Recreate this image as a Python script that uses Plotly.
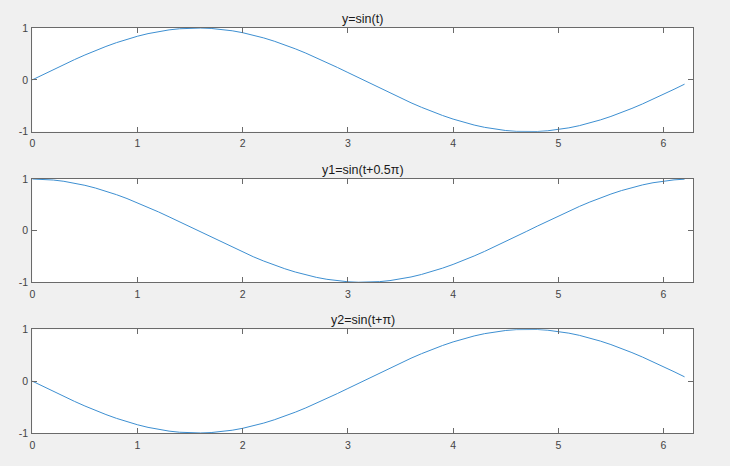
import plotly.graph_objects as go

t = [round(0.1 * i, 1) for i in range(63)]

y_sin = [0.0000, 0.0998, 0.1987, 0.2955, 0.3894, 0.4794, 0.5646, 0.6442, 0.7174, 0.7833,
         0.8415, 0.8912, 0.9320, 0.9636, 0.9854, 0.9975, 0.9996, 0.9917, 0.9738, 0.9463,
         0.9093, 0.8632, 0.8085, 0.7457, 0.6755, 0.5985, 0.5155, 0.4274, 0.3350, 0.2392,
         0.1411, 0.0416, -0.0584, -0.1577, -0.2555, -0.3508, -0.4425, -0.5298, -0.6119, -0.6878,
         -0.7568, -0.8183, -0.8716, -0.9162, -0.9516, -0.9775, -0.9937, -0.9999, -0.9962, -0.9825,
         -0.9589, -0.9258, -0.8835, -0.8323, -0.7728, -0.7055, -0.6313, -0.5507, -0.4646, -0.3739,
         -0.2794, -0.1822, -0.0831]

y1_cos = [1.0000, 0.9950, 0.9801, 0.9553, 0.9211, 0.8776, 0.8253, 0.7648, 0.6967, 0.6216,
          0.5403, 0.4536, 0.3624, 0.2675, 0.1700, 0.0707, -0.0292, -0.1288, -0.2272, -0.3233,
          -0.4161, -0.5048, -0.5885, -0.6663, -0.7374, -0.8011, -0.8569, -0.9041, -0.9422, -0.9710,
          -0.9900, -0.9991, -0.9983, -0.9875, -0.9668, -0.9365, -0.8968, -0.8481, -0.7910, -0.7259,
          -0.6536, -0.5748, -0.4903, -0.4008, -0.3073, -0.2108, -0.1122, -0.0124, 0.0875, 0.1865,
          0.2837, 0.3780, 0.4685, 0.5544, 0.6347, 0.7087, 0.7756, 0.8347, 0.8855, 0.9275,
          0.9602, 0.9833, 0.9965]

y2_neg = [0.0000, -0.0998, -0.1987, -0.2955, -0.3894, -0.4794, -0.5646, -0.6442, -0.7174, -0.7833,
          -0.8415, -0.8912, -0.9320, -0.9636, -0.9854, -0.9975, -0.9996, -0.9917, -0.9738, -0.9463,
          -0.9093, -0.8632, -0.8085, -0.7457, -0.6755, -0.5985, -0.5155, -0.4274, -0.3350, -0.2392,
          -0.1411, -0.0416, 0.0584, 0.1577, 0.2555, 0.3508, 0.4425, 0.5298, 0.6119, 0.6878,
          0.7568, 0.8183, 0.8716, 0.9162, 0.9516, 0.9775, 0.9937, 0.9999, 0.9962, 0.9825,
          0.9589, 0.9258, 0.8835, 0.8323, 0.7728, 0.7055, 0.6313, 0.5507, 0.4646, 0.3739,
          0.2794, 0.1822, 0.0831]

titles = ["y=sin(t)", "y1=sin(t+0.5\u03c0)", "y2=sin(t+\u03c0)"]
series = [y_sin, y1_cos, y2_neg]
x_ticks = [0, 1, 2, 3, 4, 5, 6]
x_tick_labels = ["0", "1", "2", "3", "4", "5", "6"]
y_ticks = [-1, 0, 1]
y_tick_labels = ["-1", "0", "1"]
x_range = [0, 6.2832]

W, H = 730, 466
x_dom = [32.3 / W, 693.3 / W]
y_px = [(28, 131.7), (179, 282.3), (329.3, 433)]

fig = go.Figure()
axis_col = "#6a6a6a"
font_fam = "Liberation Sans, Arial, Helvetica, sans-serif"

for i, (ys, ttl) in enumerate(zip(series, titles)):
    n = "" if i == 0 else str(i + 1)
    fig.add_trace(go.Scatter(x=t, y=ys, mode="lines",
                             line=dict(color="#3d8fd1", width=1),
                             xaxis="x" + n, yaxis="y" + n, showlegend=False,
                             hoverinfo="skip"))
    top, bot = y_px[i]
    ydom = [1 - bot / H, 1 - top / H]
    common = dict(showgrid=False, zeroline=False, showline=True, linecolor=axis_col,
                  linewidth=1, mirror="allticks", ticks="inside", ticklen=5,
                  tickwidth=1, tickcolor=axis_col, automargin=False,
                  tickfont=dict(family=font_fam, size=10.5, color="#444444"))
    fig.update_layout(**{
        "xaxis" + n: dict(domain=x_dom, range=x_range, tickvals=x_ticks,
                          ticktext=x_tick_labels, anchor="y" + n,
                          ticklabelstandoff=2, **common),
        "yaxis" + n: dict(domain=ydom, range=[-1, 1], tickvals=y_ticks,
                          ticktext=y_tick_labels, anchor="x" + n,
                          ticklabelstandoff=1, **common),
    })
    fig.add_annotation(text=ttl, x=(x_dom[0] + x_dom[1]) / 2, xref="paper",
                       y=ydom[1], yref="paper", xanchor="center", yanchor="bottom",
                       yshift=0, showarrow=False,
                       font=dict(family=font_fam, size=12.5, color="#1a1a1a"))

fig.update_layout(template="none", width=W, height=H,
                  margin=dict(l=0, r=0, t=0, b=0, pad=0),
                  paper_bgcolor="#f0f0f0", plot_bgcolor="#ffffff")

fig.write_html("out.html", config={"displayModeBar": False},
               post_script="document.body.style.margin='0';document.body.style.overflow='hidden';")
